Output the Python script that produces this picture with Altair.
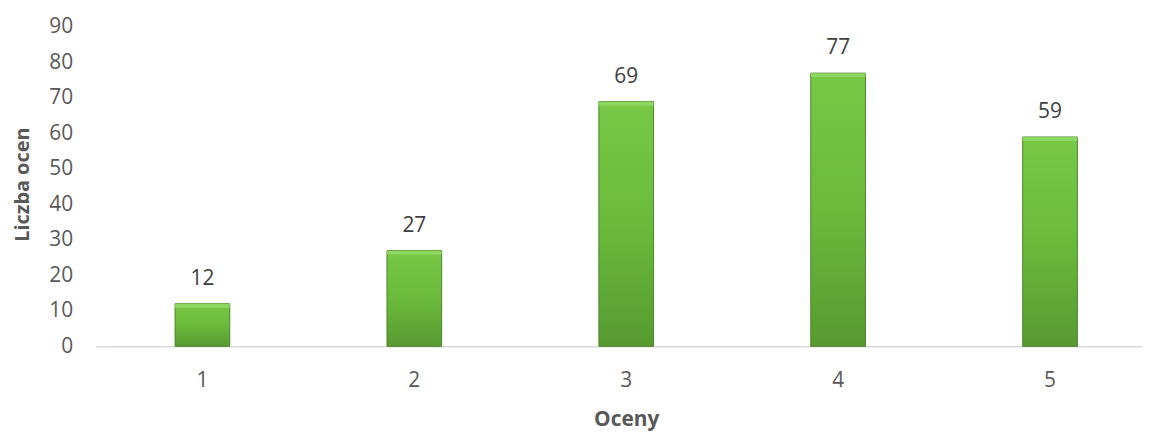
import altair as alt
import pandas as pd

categories = ["1", "2", "3", "4", "5"]
values = [12, 27, 69, 77, 59]
y_ticks = [0, 10, 20, 30, 40, 50, 60, 70, 80, 90]

df = pd.DataFrame({"Oceny": categories, "Liczba ocen": values})

FONT = "Open Sans"

x_enc = alt.X(
    "Oceny:N",
    sort=categories,
    scale=alt.Scale(paddingInner=0.742, paddingOuter=0.305),
    axis=alt.Axis(
        title="Oceny",
        labelAngle=0,
        labelFont=FONT,
        labelFontSize=21,
        labelColor="#595959",
        labelPadding=23,
        ticks=False,
        domainColor="#d9d9d9",
        domainWidth=1.5,
        titleFont=FONT,
        titleFontSize=21,
        titleFontWeight="bold",
        titleColor="#595959",
        titleBaseline="alphabetic",
        titleY=80,
    ),
)

y_enc = alt.Y(
    "Liczba ocen:Q",
    scale=alt.Scale(domain=[0, 90], nice=False),
    axis=alt.Axis(
        title="Liczba ocen",
        values=y_ticks,
        tickCount=10,
        grid=False,
        domain=False,
        ticks=True,
        tickSize=15,
        tickColor="#d9d9d9",
        tickWidth=1.5,
        tickOpacity={"condition": {"test": "datum.value === 0", "value": 1}, "value": 0},
        labelOverlap=False,
        labelBound=False,
        labelFlush=False,
        labelFont=FONT,
        labelFontSize=21,
        labelColor="#595959",
        labelPadding=23,
        titleFont=FONT,
        titleFontSize=20,
        titleFontWeight="bold",
        titleColor="#595959",
        titleBaseline="middle",
        titleX=-88,
        titleY=158,
        titleAngle=-90,
    ),
)

base = alt.Chart(df)

bars = base.mark_bar(
    color=alt.Gradient(
        gradient="linear",
        x1=0, x2=0, y1=0, y2=1,
        stops=[
            alt.GradientStop(color="#78c846", offset=0),
            alt.GradientStop(color="#6bba3c", offset=0.5),
            alt.GradientStop(color="#579a31", offset=1),
        ],
    ),
    stroke="#4c852a",
    strokeWidth=1,
).encode(x=x_enc, y=y_enc)

bevel_top = base.transform_calculate(
    top2="datum['Liczba ocen'] - 1.1"
).mark_bar(color="#92d966", opacity=0.85).encode(
    x=x_enc,
    y=y_enc,
    y2="top2:Q",
)

labels = base.mark_text(
    baseline="bottom",
    dy=-15,
    font=FONT,
    fontSize=21,
    color="#404040",
).encode(
    x=x_enc,
    y=y_enc,
    text="Liczba ocen:Q",
)

chart = alt.layer(bars, bevel_top, labels).properties(
    width=1037,
    height=321,
    autosize=alt.AutoSizeParams(type="none"),
    padding={"left": 103, "top": 18, "right": 0, "bottom": 86},
    background="white",
).configure_view(stroke=None, strokeWidth=0)

chart.save("out.html", embed_options={"renderer": "svg", "actions": False})
